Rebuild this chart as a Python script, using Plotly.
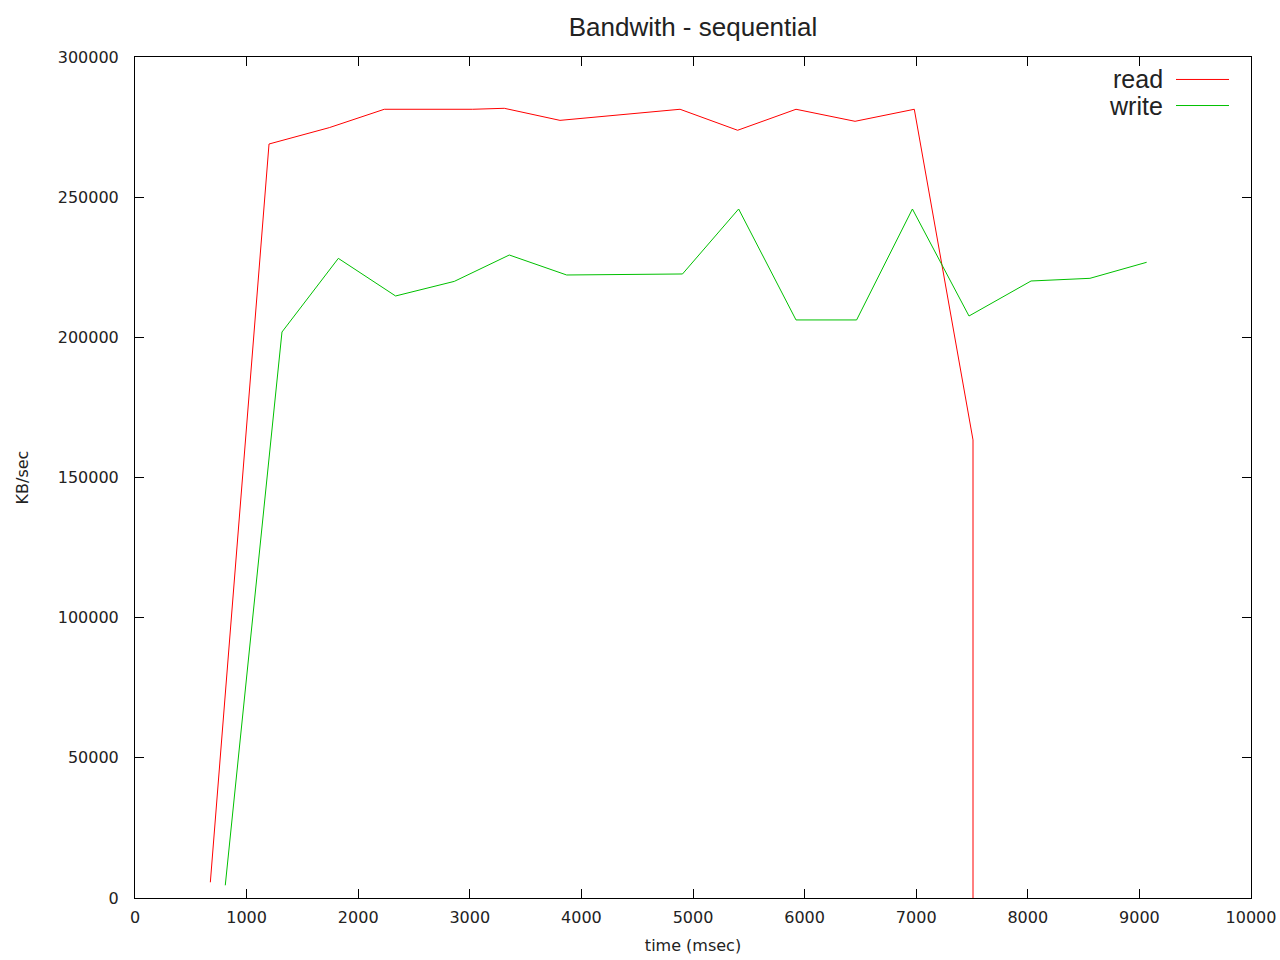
import plotly.graph_objects as go

read_x = [675, 1201, 1741, 2234, 3026, 3309, 3808, 4884, 5400, 5923, 6452, 6983, 7509, 7509]
read_y = [5600, 268965, 274800, 281350, 281350, 281700, 277400, 281350, 273860, 281350, 277060, 281350, 163400, 0]

write_x = [809, 1317, 1822, 2335, 2861, 3354, 3868, 4906, 5409, 5923, 6466, 6966, 7473, 8029, 8557, 9065]
write_y = [4530, 201900, 228170, 214750, 219960, 229370, 222240, 222600, 245780, 206200, 206200, 245780, 207610, 220100, 221050, 226770]

x_ticks = [0, 1000, 2000, 3000, 4000, 5000, 6000, 7000, 8000, 9000, 10000]
y_ticks = [0, 50000, 100000, 150000, 200000, 250000, 300000]

RED = "#ff0000"
GREEN = "#00c000"

fig = go.Figure()
fig.add_trace(go.Scatter(x=read_x, y=read_y, mode="lines", name="read",
                         line=dict(color=RED, width=1)))
fig.add_trace(go.Scatter(x=write_x, y=write_y, mode="lines", name="write",
                         line=dict(color=GREEN, width=1)))

tickfont = dict(family="DejaVu Sans", size=16, color="#222222")
fig.update_layout(
    width=1280, height=960,
    margin=dict(l=135, r=29, t=57, b=62, autoexpand=False),
    paper_bgcolor="white", plot_bgcolor="white",
    showlegend=False,
    title=dict(text="Bandwith - sequential", x=0.5, xref="paper", xanchor="center",
               y=1 - 27 / 960, yanchor="middle",
               font=dict(family="Liberation Sans", size=26, color="#222222")),
    xaxis=dict(range=[0, 10000], tickvals=x_ticks, ticktext=[str(v) for v in x_ticks],
               automargin=False,
               ticks="inside", ticklen=9, tickcolor="black", tickwidth=1,
               showline=True, linecolor="black", linewidth=1, mirror="allticks",
               showgrid=False, zeroline=False, tickfont=tickfont, ticklabelstandoff=5,
               title=dict(text="time (msec)", font=dict(family="DejaVu Sans", size=16, color="#222222"),
                          standoff=13)),
    yaxis=dict(range=[0, 300000], tickvals=y_ticks, ticktext=[str(v) for v in y_ticks],
               automargin=False,
               ticks="inside", ticklen=9, tickcolor="black", tickwidth=1,
               showline=True, linecolor="black", linewidth=1, mirror="allticks",
               showgrid=False, zeroline=False, tickfont=tickfont, ticklabelstandoff=12,
               title=dict(text="KB/sec", font=dict(family="DejaVu Sans", size=16, color="#222222"),
                          standoff=25)),
)

# gnuplot-style legend: text right-aligned, sample line to its right
legend_items = [("read", RED, 0.9733), ("write", GREEN, 0.9423)]
for name, color, yp in legend_items:
    fig.add_annotation(x=0.9230, y=yp, xref="paper", yref="paper", text=name,
                       showarrow=False, xanchor="right", yanchor="middle",
                       font=dict(family="Liberation Sans", size=25, color="#222222"))
    fig.add_shape(type="line", xref="paper", yref="paper", x0=0.9328, x1=0.9803,
                  y0=yp, y1=yp, line=dict(color=color, width=1))

fig.write_html("out.html", config={"displayModeBar": False},
               post_script="document.body.style.margin='0';document.body.style.overflow='hidden';")
